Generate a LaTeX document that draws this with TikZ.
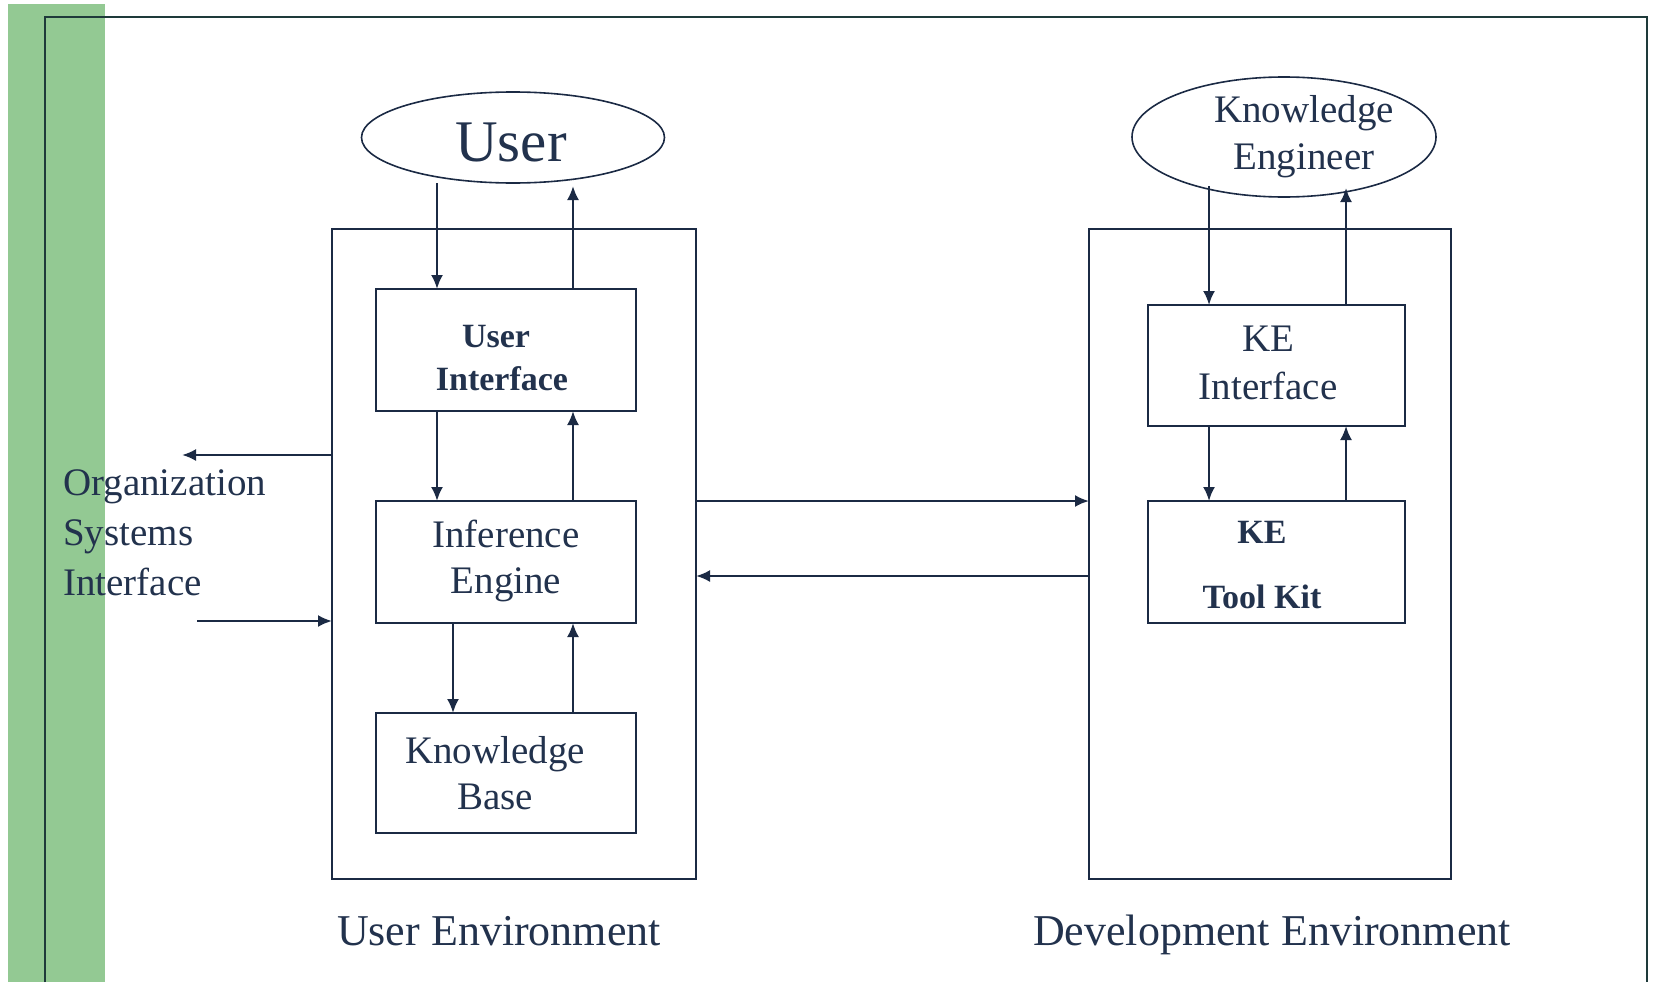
\documentclass[tikz,border=0pt]{standalone}
\usepackage{fontspec}
\setmainfont{Liberation Serif}
\usetikzlibrary{shapes.geometric,arrows.meta}
\definecolor{ink}{HTML}{1B2A44}
\definecolor{txt}{HTML}{22324D}
\definecolor{barg}{HTML}{93C993}
\definecolor{framec}{HTML}{1E3A3A}
\begin{document}
\begin{tikzpicture}[x=1pt,y=-1pt,
  arr/.style={draw=ink,line width=2.2pt,-{Latex[length=14pt,width=12pt]}},
  box/.style={draw=ink,line width=2.4pt,rectangle,inner sep=0pt,outer sep=0pt},
  oval/.style={draw=ink,line width=1.6pt,ellipse,inner sep=0pt,outer sep=0pt},
  lbl/.style={text=txt,align=center,inner sep=0pt,font=\fontsize{39}{46}\selectfont},
  blbl/.style={text=txt,align=center,inner sep=0pt,font=\fontsize{34}{43}\selectfont\bfseries},
]
\useasboundingbox (0,0) rectangle (1653,982);
\fill[barg] (8,4) rectangle (105,982);
\draw[framec,line width=2.6pt] (45,982) -- (45,17) -- (1647,17) -- (1647,982);

% ellipses
\node[oval,minimum width=303pt,minimum height=91pt] (user) at (513,137.5) {};
\node[lbl,font=\fontsize{59}{60}\selectfont] (userT) at (511,142) {User};
\node[oval,minimum width=304pt,minimum height=120pt] (ke) at (1284,137) {};
\node[lbl,font=\fontsize{39}{47}\selectfont] (keT) at (1304,137) {Knowledge\\Engineer};

% environment boxes
\node[box,minimum width=364pt,minimum height=650pt] (uenv) at (514,554) {};
\node[box,minimum width=362pt,minimum height=650pt] (denv) at (1270,554) {};

% inner boxes
\node[box,minimum width=260pt,minimum height=122pt] (ui) at (506,350) {};
\node[blbl] (uiT) at (502,358) {\hspace*{-12pt}User\\Interface};
\node[box,minimum width=260pt,minimum height=122pt] (ie) at (506,562) {};
\node[lbl] (ieT) at (506,561) {Inference\\Engine};
\node[box,minimum width=260pt,minimum height=120pt] (kb) at (506,773) {};
\node[lbl] (kbT) at (495,773) {Knowledge\\Base};
\node[box,minimum width=257pt,minimum height=121pt] (kei) at (1276.5,365.5) {};
\node[lbl,font=\fontsize{39}{48}\selectfont] (keiT) at (1268,363) {KE\\Interface};
\node[box,minimum width=257pt,minimum height=122pt] (ketk) at (1276.5,562) {};
\node[blbl,font=\fontsize{34}{65}\selectfont\bfseries] (ketkT) at (1262,565) {KE\\Tool Kit};

% labels
\node[lbl,align=left,anchor=west,font=\fontsize{39}{50}\selectfont] (org) at (63,533) {Organization\\Systems\\Interface};
\node[lbl,anchor=base,font=\fontsize{44}{50}\selectfont] (uenvL) at (499,945) {User Environment};
\node[lbl,anchor=base,font=\fontsize{44}{50}\selectfont] (denvL) at (1272,945) {Development Environment};

% arrows, user side
\coordinate (uDn) at (437,183);
\coordinate (uUp) at (573,186);
\coordinate (kbX) at (453,0);
\draw[arr] (uDn) -- (uDn |- ui.north);
\draw[arr] (uUp |- ui.north) -- (uUp);
\draw[arr] (ui.south -| uDn) -- (ie.north -| uDn);
\draw[arr] (ie.north -| uUp) -- (ui.south -| uUp);
\draw[arr] (ie.south -| kbX) -- (kb.north -| kbX);
\draw[arr] (kb.north -| uUp) -- (ie.south -| uUp);

% arrows, development side
\coordinate (kDn) at (1209,186);
\coordinate (kUp) at (1346,188);
\draw[arr] (kDn) -- (kDn |- kei.north);
\draw[arr] (kUp |- kei.north) -- (kUp);
\draw[arr] (kei.south -| kDn) -- (ketk.north -| kDn);
\draw[arr] (ketk.north -| kUp) -- (kei.south -| kUp);

% between environments
\coordinate (lvlA) at (0,501);
\coordinate (lvlB) at (0,576);
\draw[arr] (uenv.east |- lvlA) -- (denv.west |- lvlA);
\draw[arr] (denv.west |- lvlB) -- (uenv.east |- lvlB);

% organization systems interface
\coordinate (orgOut) at (182,455);
\coordinate (orgIn) at (197,621);
\draw[arr] (uenv.west |- orgOut) -- (orgOut);
\draw[arr] (orgIn) -- (uenv.west |- orgIn);
\end{tikzpicture}
\end{document}
